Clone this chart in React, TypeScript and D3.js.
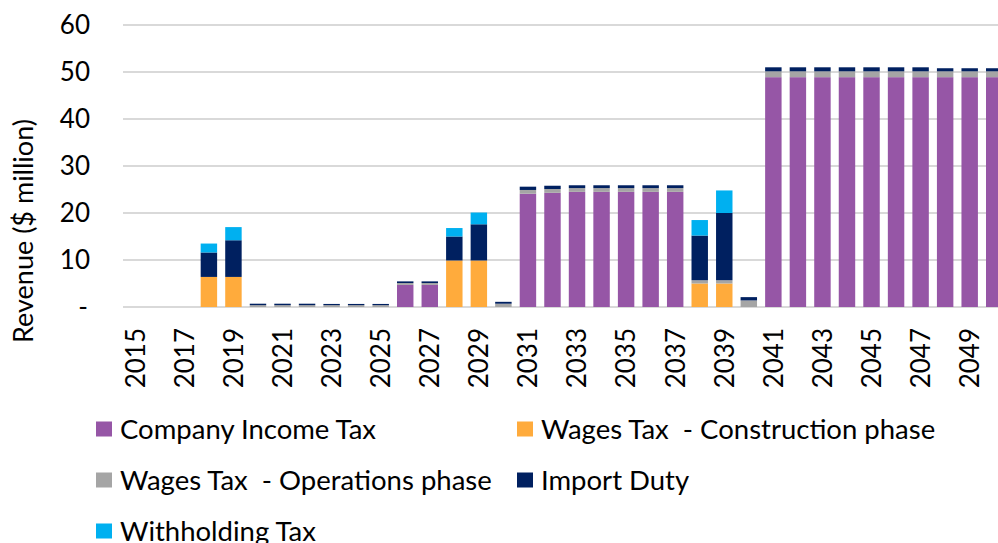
import React, { useRef, useEffect } from 'react';
import * as d3 from 'd3';

const years = d3.range(2015, 2051).map(String);

// values in $ million (index 0 = 2015)
const companyIncomeTax = [
  0, 0, 0, 0, 0, 0, 0, 0, 0, 0, 0, 4.7, 4.7, 0, 0, 0,
  24.1, 24.3, 24.5, 24.5, 24.5, 24.5, 24.5, 0, 0, 0,
  48.9, 48.9, 48.9, 48.9, 48.9, 48.9, 48.9, 48.9, 48.9, 48.9,
];
const wagesConstruction = [
  0, 0, 0, 6.4, 6.4, 0, 0, 0, 0, 0, 0, 0, 0, 9.9, 9.9, 0,
  0, 0, 0, 0, 0, 0, 0, 5.0, 5.0, 0,
  0, 0, 0, 0, 0, 0, 0, 0, 0, 0,
];
const wagesOperations = [
  0, 0, 0, 0, 0, 0.4, 0.4, 0.4, 0.4, 0.4, 0.4, 0.4, 0.4, 0, 0, 0.7,
  0.8, 0.8, 0.8, 0.8, 0.8, 0.8, 0.8, 0.7, 0.7, 1.4,
  1.25, 1.25, 1.25, 1.25, 1.25, 1.25, 1.25, 1.25, 1.25, 1.25,
];
const importDuty = [
  0, 0, 0, 5.2, 7.8, 0.3, 0.3, 0.3, 0.25, 0.25, 0.25, 0.35, 0.35, 5.1, 7.7, 0.4,
  0.7, 0.7, 0.6, 0.6, 0.6, 0.6, 0.6, 9.5, 14.3, 0.7,
  0.85, 0.85, 0.85, 0.85, 0.85, 0.85, 0.85, 0.65, 0.65, 0.65,
];
const withholdingTax = [
  0, 0, 0, 1.9, 2.8, 0, 0, 0, 0, 0, 0, 0, 0, 1.8, 2.5, 0,
  0, 0, 0, 0, 0, 0, 0, 3.3, 4.8, 0,
  0, 0, 0, 0, 0, 0, 0, 0, 0, 0,
];

const seriesNames = [
  'Company Income Tax',
  'Wages Tax  - Construction phase',
  'Wages Tax  - Operations phase',
  'Import Duty',
  'Withholding Tax',
];
const seriesValues = [companyIncomeTax, wagesConstruction, wagesOperations, importDuty, withholdingTax];
const colors = ['#9656A6', '#FFAB3C', '#A5A5A5', '#002060', '#00B0F0'];
const yTicks = [0, 10, 20, 30, 40, 50, 60];

const FONT = 'Lato, "Open Sans", sans-serif';

export default function App() {
  const svgRef = useRef<SVGSVGElement>(null);

  useEffect(() => {
    if (!svgRef.current) return;
    const svg = d3.select(svgRef.current);
    svg.selectAll('*').remove();

    const x = d3.scaleBand<string>()
      .domain(years)
      .range([123, 1006.5])
      .paddingInner(0.33)
      .paddingOuter(0.165);
    const y = d3.scaleLinear().domain([0, 60]).range([307, 25]);

    // gridlines
    svg.append('g')
      .selectAll('line')
      .data(yTicks)
      .join('line')
      .attr('x1', 123)
      .attr('x2', 998)
      .attr('y1', d => y(d))
      .attr('y2', d => y(d))
      .attr('stroke', '#D9D9D9')
      .attr('stroke-width', 2);

    // y tick labels
    svg.append('g')
      .selectAll('text')
      .data(yTicks)
      .join('text')
      .attr('x', d => (d === 0 ? 88 : 90))
      .attr('y', d => y(d))
      .attr('dy', '0.36em')
      .attr('text-anchor', 'end')
      .style('font-family', FONT)
      .style('font-size', '26px')
      .attr('fill', '#000')
      .text(d => (d === 0 ? '-' : String(d)));

    // y title
    svg.append('text')
      .attr('transform', 'translate(33,231) rotate(-90)')
      .attr('text-anchor', 'middle')
      .style('font-family', FONT)
      .style('font-size', '27px')
      .attr('fill', '#000')
      .text('Revenue ($ million)');

    // stacked bars
    const table = years.map((yr, i) => {
      const row: Record<string, any> = { year: yr };
      seriesNames.forEach((n, k) => { row[n] = seriesValues[k][i]; });
      return row;
    });
    const stacked = d3.stack<any>().keys(seriesNames)(table);

    svg.append('g')
      .selectAll('g')
      .data(stacked)
      .join('g')
      .attr('fill', (_, k) => colors[k])
      .selectAll('rect')
      .data(d => d.filter(s => s[1] - s[0] > 0))
      .join('rect')
      .attr('x', d => x(d.data.year)!)
      .attr('width', x.bandwidth())
      .attr('y', d => y(d[1]))
      .attr('height', d => y(d[0]) - y(d[1]));

    // x labels (every other year)
    svg.append('g')
      .selectAll('text')
      .data(years.filter((_, i) => i % 2 === 0))
      .join('text')
      .attr('transform', d => `translate(${x(d)! + x.bandwidth() / 2},328) rotate(-90)`)
      .attr('dy', '0.36em')
      .attr('text-anchor', 'end')
      .style('font-family', FONT)
      .style('font-size', '26px')
      .attr('fill', '#000')
      .text(d => d);

    // legend
    const legendPos = [
      [96, 429], [517, 429],
      [96, 480], [517, 480],
      [96, 531],
    ];
    const legend = svg.append('g')
      .selectAll('g')
      .data(seriesNames)
      .join('g')
      .attr('transform', (_, i) => `translate(${legendPos[i][0]},${legendPos[i][1]})`);
    legend.append('rect')
      .attr('x', 0)
      .attr('y', -7.5)
      .attr('width', 16)
      .attr('height', 15)
      .attr('fill', (_, i) => colors[i]);
    legend.append('text')
      .attr('x', 24)
      .attr('y', 0)
      .attr('dy', '0.36em')
      .style('font-family', FONT)
      .style('font-size', '27.5px')
      .style('white-space', 'pre')
      .attr('fill', '#000')
      .text(d => d);
  }, []);

  return (
    <div style={{ position: 'absolute', left: 0, top: 0, width: 998, height: 543, background: '#fff' }}>
      <svg ref={svgRef} width={998} height={543} style={{ display: 'block', overflow: 'hidden' }} />
    </div>
  );
}
